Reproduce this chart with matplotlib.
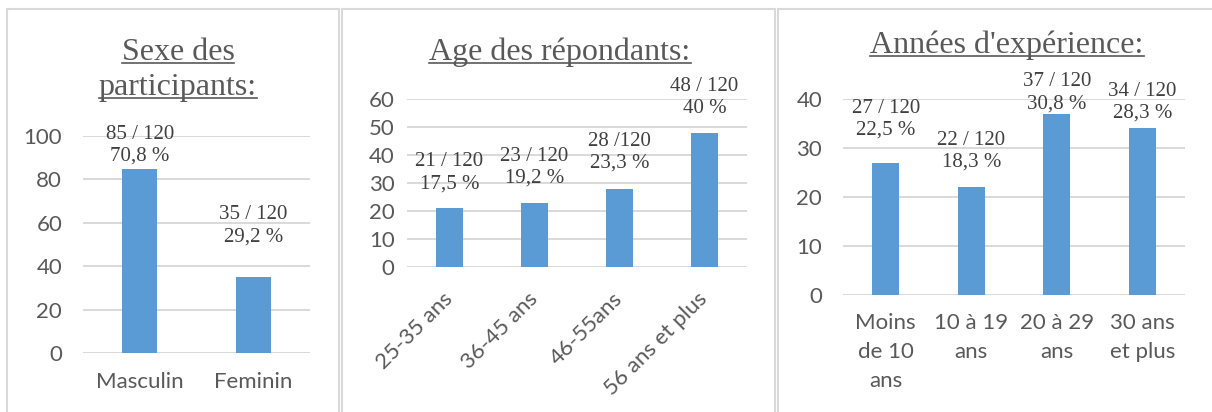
import matplotlib
matplotlib.use('Agg')
import matplotlib.pyplot as plt
from matplotlib.patches import Rectangle
from matplotlib.lines import Line2D

# data
sexe_cats = ['Masculin', 'Feminin']
sexe_vals = [85, 35]
sexe_pct = ['70,8 %', '29,2 %']

age_cats = ['25-35 ans', '36-45 ans', '46-55ans', '56 ans et plus']
age_vals = [21, 23, 28, 48]
age_pct = ['17,5 %', '19,2 %', '23,3 %', '40 %']

exp_cats = ['Moins\nde 10\nans', '10 à 19\nans', '20 à 29\nans', '30 ans\net plus']
exp_vals = [27, 22, 37, 34]
exp_pct = ['22,5 %', '18,3 %', '30,8 %', '28,3 %']

total = 120

W, H = 1212, 412
BAR = '#5B9BD5'
GRID = '#D9D9D9'
TXT = '#595959'
LBL = '#404040'

fig = plt.figure(figsize=(W / 100, H / 100), dpi=100)
fig.patch.set_facecolor('white')


def px_axes(left, right, top, bottom):
    return fig.add_axes([left / W, 1 - bottom / H, (right - left) / W, (bottom - top) / H])


def setup(ax, n, ymax, step, ypad):
    ax.set_xlim(-0.5, n - 0.5)
    ax.set_ylim(0, ymax)
    ax.set_yticks(range(0, ymax + 1, step))
    for s in ax.spines.values():
        s.set_visible(False)
    ax.yaxis.grid(True, color=GRID, lw=1.4)
    ax.set_axisbelow(True)
    ax.tick_params(length=0, labelsize=16, colors=TXT)
    ax.tick_params(axis='y', pad=ypad)
    for t in ax.get_xticklabels() + ax.get_yticklabels():
        t.set_family('Lato')


def labels(ax, vals, pct, offsets, sep=' / '):
    for i, (v, p, off) in enumerate(zip(vals, pct, offsets)):
        s = sep[i] if isinstance(sep, list) else sep
        ax.annotate(f'{v}{s}{total}\n{p}', (i, v), xytext=(0, off), textcoords='offset points',
                    ha='center', va='center', fontsize=15, family='Liberation Serif',
                    color=LBL, linespacing=1.2)


# panel 1
ax1 = px_axes(83, 310, 136, 353)
ax1.bar(range(2), sexe_vals, width=0.31, color=BAR)
setup(ax1, 2, 100, 20, 15)
ax1.set_xticks(range(2))
ax1.set_xticklabels(sexe_cats, family='Lato')
ax1.tick_params(axis='x', pad=14)
labels(ax1, sexe_vals, sexe_pct, [17, 37])

# panel 2
ax2 = px_axes(407, 747, 99, 267)
ax2.bar(range(4), age_vals, width=0.32, color=BAR)
setup(ax2, 4, 60, 10, 9)
ax2.set_xticks(range(4))
ax2.set_xticklabels(age_cats, rotation=45, ha='right', va='center', rotation_mode='anchor', family='Lato')
ax2.tick_params(axis='x', pad=21)
labels(ax2, age_vals, age_pct, [25.5, 25.5, 26, 25.5], sep=[' / ', ' / ', ' /', ' / '])

# panel 3
ax3 = px_axes(843, 1185, 99, 295)
ax3.bar(range(4), exp_vals, width=0.32, color=BAR)
setup(ax3, 4, 40, 10, 15)
ax3.set_xticks(range(4))
ax3.set_xticklabels(exp_cats, family='Lato', linespacing=1.55)
ax3.tick_params(axis='x', pad=13)
labels(ax3, exp_vals, exp_pct, [31, 26, 15, 19])

# panel frames
for x0, x1 in [(6.5, 338.5), (341.7, 775), (778, 1230)]:
    fig.add_artist(Rectangle((x0 / W, -0.1), (x1 - x0) / W, 1.1 - 9.5 / H, transform=fig.transFigure,
                             fill=False, ec=GRID, lw=1.5))

# underlined titles
titles = [('Sexe des', 178, 60), ('participants:', 178, 95),
          ('Age des répondants:', 560, 60), ("Années d'expérience:", 1007, 53)]
title_objs = []
for s, x, y in titles:
    t = fig.text(x / W, 1 - y / H, s, ha='center', va='baseline', fontsize=23,
                 family='Liberation Serif', color=TXT)
    title_objs.append((t, y))

fig.canvas.draw()
r = fig.canvas.get_renderer()
for t, y in title_objs:
    bb = t.get_window_extent(r)
    fig.add_artist(Line2D([bb.x0 / W, bb.x1 / W], [1 - (y + 3) / H] * 2, transform=fig.transFigure,
                          color=TXT, lw=1.2))

fig.savefig('out.png', dpi=100)
